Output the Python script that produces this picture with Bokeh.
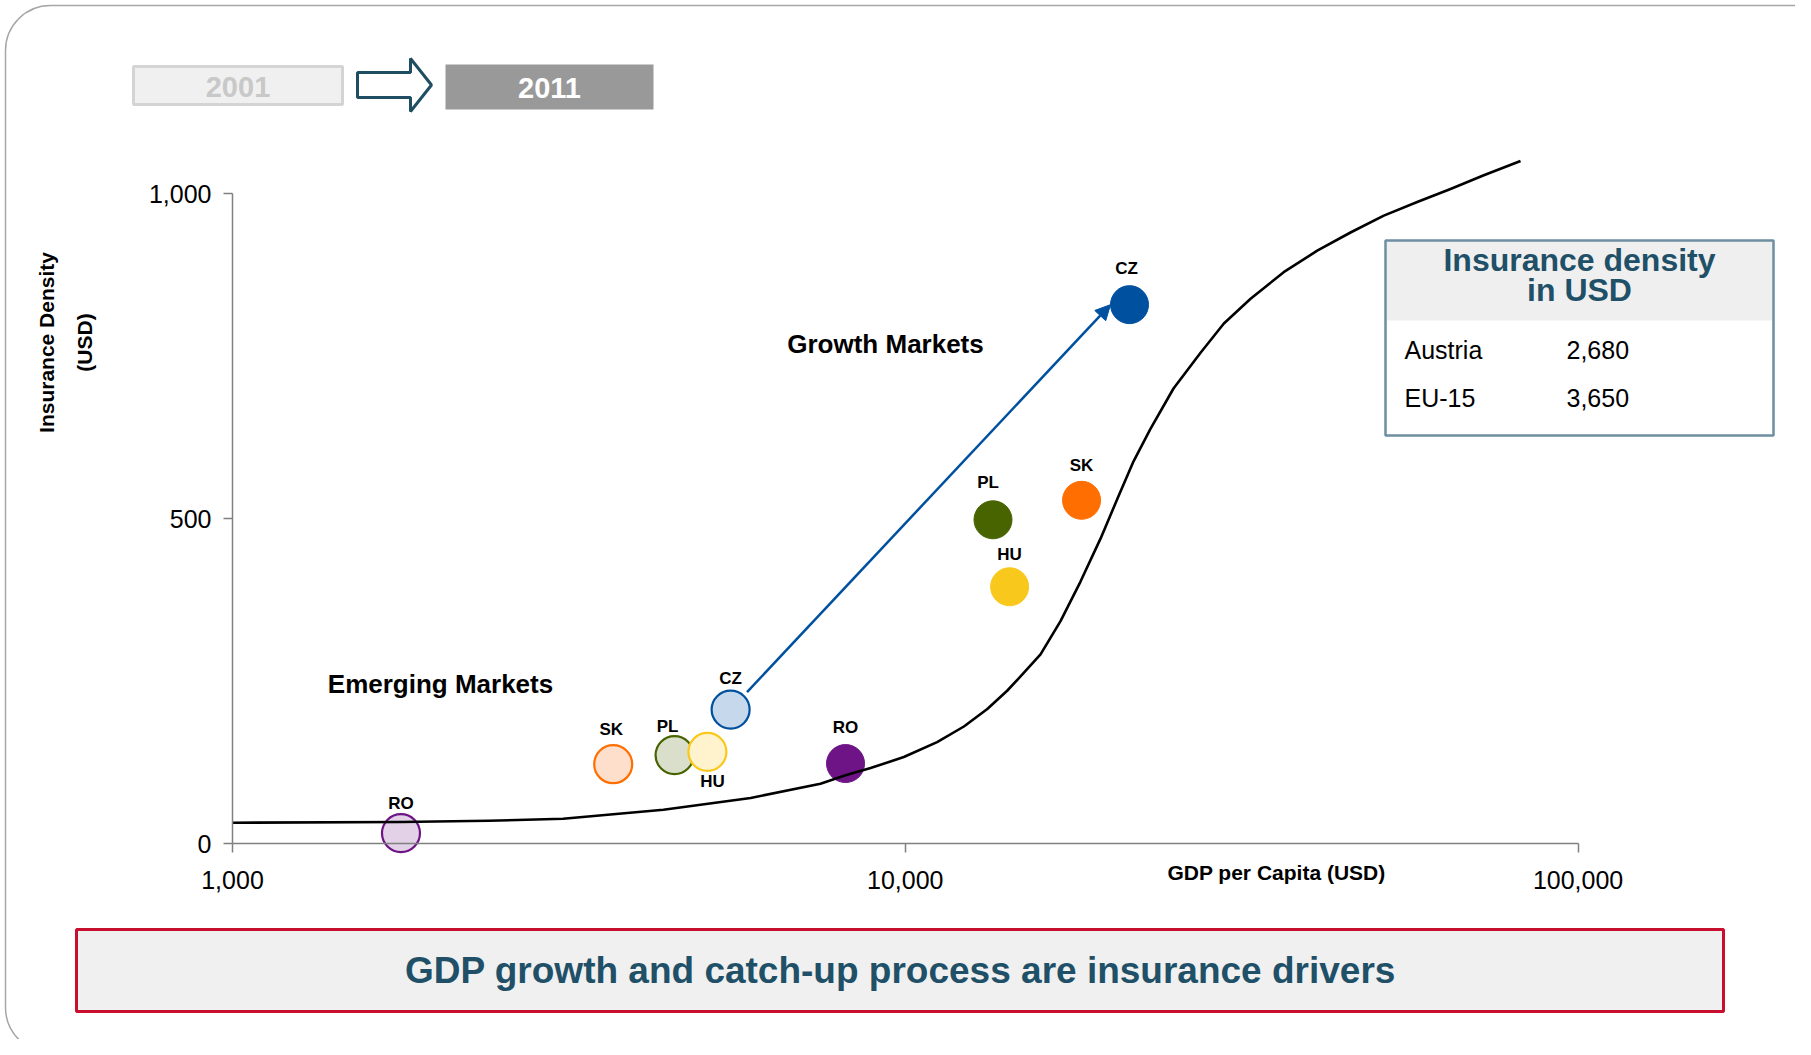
import math
from bokeh.plotting import figure
from bokeh.models import (Range1d, FixedTicker, NumeralTickFormatter, Label, BoxAnnotation,
                          PolyAnnotation, Arrow, NormalHead, ColumnDataSource)
from bokeh.embed import file_html
from bokeh.resources import INLINE
from bokeh.core.properties import value

# ---------------- data ----------------
countries = ["RO", "SK", "PL", "HU", "CZ"]
gdp_2001 = [1780, 3680, 4540, 5080, 5500]
density_2001 = [16, 122, 136, 141, 206]
gdp_2011 = [8150, 18280, 13500, 14290, 21540]
density_2011 = [123, 528, 498, 395, 829]

curve_gdp = [1000, 1780, 2400, 3100, 4370, 5890, 7480, 8150, 8880, 9950, 11150, 12220,
             13240, 14170, 14835, 15885, 17010, 18215, 19505, 20680, 21840, 23140, 25040,
             27470, 29750, 32600, 36510, 40950, 45890, 51430, 57660, 64620, 72420, 82120]
curve_density = [32, 33, 35, 38, 52, 70, 92, 105, 116, 133, 156, 180,
                 207, 235, 257, 291, 342, 403, 469, 531, 588, 638, 700,
                 755, 800, 838, 879, 912, 940, 966, 987, 1007, 1028, 1050]

x_ticks = [1000, 10000, 100000]
y_ticks = [0, 500, 1000]

table_rows = ["Austria", "EU-15"]
table_values = ["2,680", "3,650"]

year_from = "2001"
year_to = "2011"
banner_text = "GDP growth and catch-up process are insurance drivers"

# ---------------- styles ----------------
solid_colors = ["#6E1487", "#FF6E00", "#476400", "#F9C81C", "#0050A0"]
light_fills = ["#E2D1E7", "#FDDFCB", "#D9DFCB", "#FEF3CD", "#C6D8EC"]
off_2001 = [(0, -30), (-2, -35), (-7, -29), (5, 30), (0, -31)]
off_2011 = [(0, -36), (0, -35), (-5, -37), (0, -32), (-3, -36)]

FONT = "Liberation Sans"
TEAL = "#1F5068"

W, H = 1795, 1039
AX_X = 232             # canvas x of GDP = 1,000 (y axis)
AX_Y = 843             # canvas y of density = 0 (x axis)
DECADE = 672.8         # px per decade on x
PX_PER_UNIT = 0.65     # px per USD on y
MARKER = 38


def dx(px):  # canvas px -> data x
    return 10 ** (3 + (px - AX_X) / DECADE)


def dy(py):  # canvas py -> data y
    return (AX_Y - py) / PX_PER_UNIT


def to_px(g):
    return AX_X + DECADE * (math.log10(g) - 3)


def to_py(d):
    return AX_Y - PX_PER_UNIT * d


p = figure(width=W, height=H, x_axis_type="log",
           x_range=Range1d(dx(0), dx(W)), y_range=Range1d(dy(H), dy(0)),
           output_backend="svg", toolbar_location=None,
           min_border=0, min_border_left=0, min_border_right=0, min_border_top=0,
           min_border_bottom=0)
p.outline_line_color = None
p.xgrid.visible = False
p.ygrid.visible = False
p.background_fill_color = "white"
p.border_fill_color = "white"

for ax in (p.xaxis, p.yaxis):
    ax.axis_line_color = "#808080"
    ax.axis_line_width = 1.5
    ax.major_tick_line_color = "#808080"
    ax.major_tick_line_width = 1.5
    ax.major_tick_out = 9
    ax.major_tick_in = 0
    ax.minor_tick_line_color = None
    ax.major_label_text_font = FONT
    ax.major_label_text_font_size = "25px"
    ax.major_label_text_color = "black"
    ax.formatter = NumeralTickFormatter(format="0,0")
p.xaxis.ticker = FixedTicker(ticks=x_ticks, minor_ticks=[])
p.yaxis.ticker = FixedTicker(ticks=y_ticks, minor_ticks=[])
p.xaxis.bounds = (1000, 100000)
p.yaxis.bounds = (0, 1000)
p.xaxis.fixed_location = 0
p.yaxis.fixed_location = 1000
p.xaxis.major_label_standoff = 18
p.yaxis.major_label_standoff = 12

# ---------------- decorations ----------------
# page frame
p.add_layout(BoxAnnotation(left=dx(5), right=dx(1900), top=dy(5), bottom=dy(1052),
                           fill_alpha=0, line_color="#A6A6A6", line_alpha=1,
                           line_width=1.5, border_radius=45, level="underlay"))

# year boxes
p.add_layout(BoxAnnotation(left=dx(133), right=dx(342), top=dy(66), bottom=dy(104),
                           fill_color="#F0F0F0", fill_alpha=1, line_color="#D4D4D4",
                           line_alpha=1, line_width=3))
p.add_layout(Label(x=dx(237.5), y=dy(86), text=year_from, text_align="center",
                   text_baseline="middle", text_font=FONT, text_font_size="29px",
                   text_font_style="bold", text_color="#C8C8C8"))
arrow_px = [357, 410, 410, 431, 410, 410, 357]
arrow_py = [72, 72, 58, 84.5, 111, 97, 97]
p.add_layout(PolyAnnotation(xs=[dx(v) for v in arrow_px], ys=[dy(v) for v in arrow_py],
                            fill_color="white", fill_alpha=1, line_color="#1F4E63",
                            line_alpha=1, line_width=3))
p.add_layout(BoxAnnotation(left=dx(445), right=dx(653), top=dy(64), bottom=dy(109),
                           fill_color="#999999", fill_alpha=1, line_alpha=0))
p.add_layout(Label(x=dx(549), y=dy(87), text=year_to, text_align="center",
                   text_baseline="middle", text_font=FONT, text_font_size="29px",
                   text_font_style="bold", text_color="white"))

# info box
p.add_layout(BoxAnnotation(left=dx(1385), right=dx(1773), top=dy(240), bottom=dy(435),
                           fill_color="white", fill_alpha=1, line_alpha=0))
p.add_layout(BoxAnnotation(left=dx(1385), right=dx(1773), top=dy(240), bottom=dy(320),
                           fill_color="#EFEFEF", fill_alpha=1, line_alpha=0))
p.add_layout(BoxAnnotation(left=dx(1385), right=dx(1773), top=dy(240), bottom=dy(435),
                           fill_alpha=0, line_color="#6D8FA1", line_alpha=1, line_width=2.5))
for txt, yy in (("Insurance density", 259), ("in USD", 289)):
    p.add_layout(Label(x=dx(1579), y=dy(yy), text=txt, text_align="center",
                       text_baseline="middle", text_font=FONT, text_font_size="32px",
                       text_font_style="bold", text_color=TEAL))
for i, (name, val) in enumerate(zip(table_rows, table_values)):
    yy = 349 + 48 * i
    p.add_layout(Label(x=dx(1404), y=dy(yy), text=name, text_align="left",
                       text_baseline="middle", text_font=FONT, text_font_size="25px",
                       text_color="black"))
    p.add_layout(Label(x=dx(1566), y=dy(yy), text=val, text_align="left",
                       text_baseline="middle", text_font=FONT, text_font_size="25px",
                       text_color="black"))

# bottom banner
p.add_layout(BoxAnnotation(left=dx(76), right=dx(1723), top=dy(929), bottom=dy(1011),
                           fill_color="#F0F0F0", fill_alpha=1, line_color="#C8102E",
                           line_alpha=1, line_width=3))
p.add_layout(Label(x=dx(900), y=dy(970), text=banner_text, text_align="center",
                   text_baseline="middle", text_font=FONT, text_font_size="37px",
                   text_font_style="bold", text_color=TEAL))

# axis titles and region labels
for txt, xx in (("Insurance Density", 46), ("(USD)", 84)):
    p.add_layout(Label(x=dx(xx), y=dy(342), text=txt, angle=math.pi / 2,
                       text_align="center", text_baseline="middle", text_font=FONT,
                       text_font_size="21px", text_font_style="bold", text_color="black"))
p.add_layout(Label(x=dx(1276), y=dy(872), text="GDP per Capita (USD)", text_align="center",
                   text_baseline="middle", text_font=FONT, text_font_size="21px",
                   text_font_style="bold", text_color="black"))
p.add_layout(Label(x=dx(885), y=dy(343), text="Growth Markets", text_align="center",
                   text_baseline="middle", text_font=FONT, text_font_size="26px",
                   text_font_style="bold", text_color="black"))
p.add_layout(Label(x=dx(440), y=dy(683), text="Emerging Markets", text_align="center",
                   text_baseline="middle", text_font=FONT, text_font_size="26px",
                   text_font_style="bold", text_color="black"))

# ---------------- data marks ----------------
src01 = ColumnDataSource(dict(x=gdp_2001, y=density_2001, label=countries,
                              fill=light_fills, line=solid_colors,
                              xo=[o[0] for o in off_2001], yo=[o[1] for o in off_2001]))
src11 = ColumnDataSource(dict(x=gdp_2011, y=density_2011, label=countries,
                              fill=solid_colors,
                              xo=[o[0] for o in off_2011], yo=[o[1] for o in off_2011]))

p.scatter("x", "y", source=src01, size=MARKER, marker="circle", fill_color="fill",
          line_color="line", line_width=2.2)
p.scatter("x", "y", source=src11, size=MARKER, marker="circle", fill_color="fill",
          line_color="fill", line_width=1)
p.line(curve_gdp, curve_density, line_color="black", line_width=2.6, line_join="round")

for src in (src01, src11):
    p.text("x", "y", text="label", source=src, x_offset="xo", y_offset="yo",
           text_align="center", text_baseline="middle", text_font=value(FONT),
           text_font_size="17px", text_font_style="bold", text_color="black")

# CZ development arrow (from 2001 circle edge to left edge of 2011 circle)
ci = countries.index("CZ")
sx0, sy0 = to_px(gdp_2001[ci]), to_py(density_2001[ci])
sx1, sy1 = to_px(gdp_2011[ci]) - MARKER / 2, to_py(density_2011[ci])
L = math.hypot(sx1 - sx0, sy1 - sy0)
ux, uy = (sx1 - sx0) / L, (sy1 - sy0) / L
ax0, ay0 = sx0 + 24 * ux, sy0 + 24 * uy
p.add_layout(Arrow(end=NormalHead(size=15, fill_color="#0050A0", line_color="#0050A0"),
                   x_start=dx(ax0), y_start=dy(ay0), x_end=dx(sx1), y_end=dy(sy1),
                   line_color="#0050A0", line_width=2.5))

open("out.html", "w").write(file_html(p, INLINE))
